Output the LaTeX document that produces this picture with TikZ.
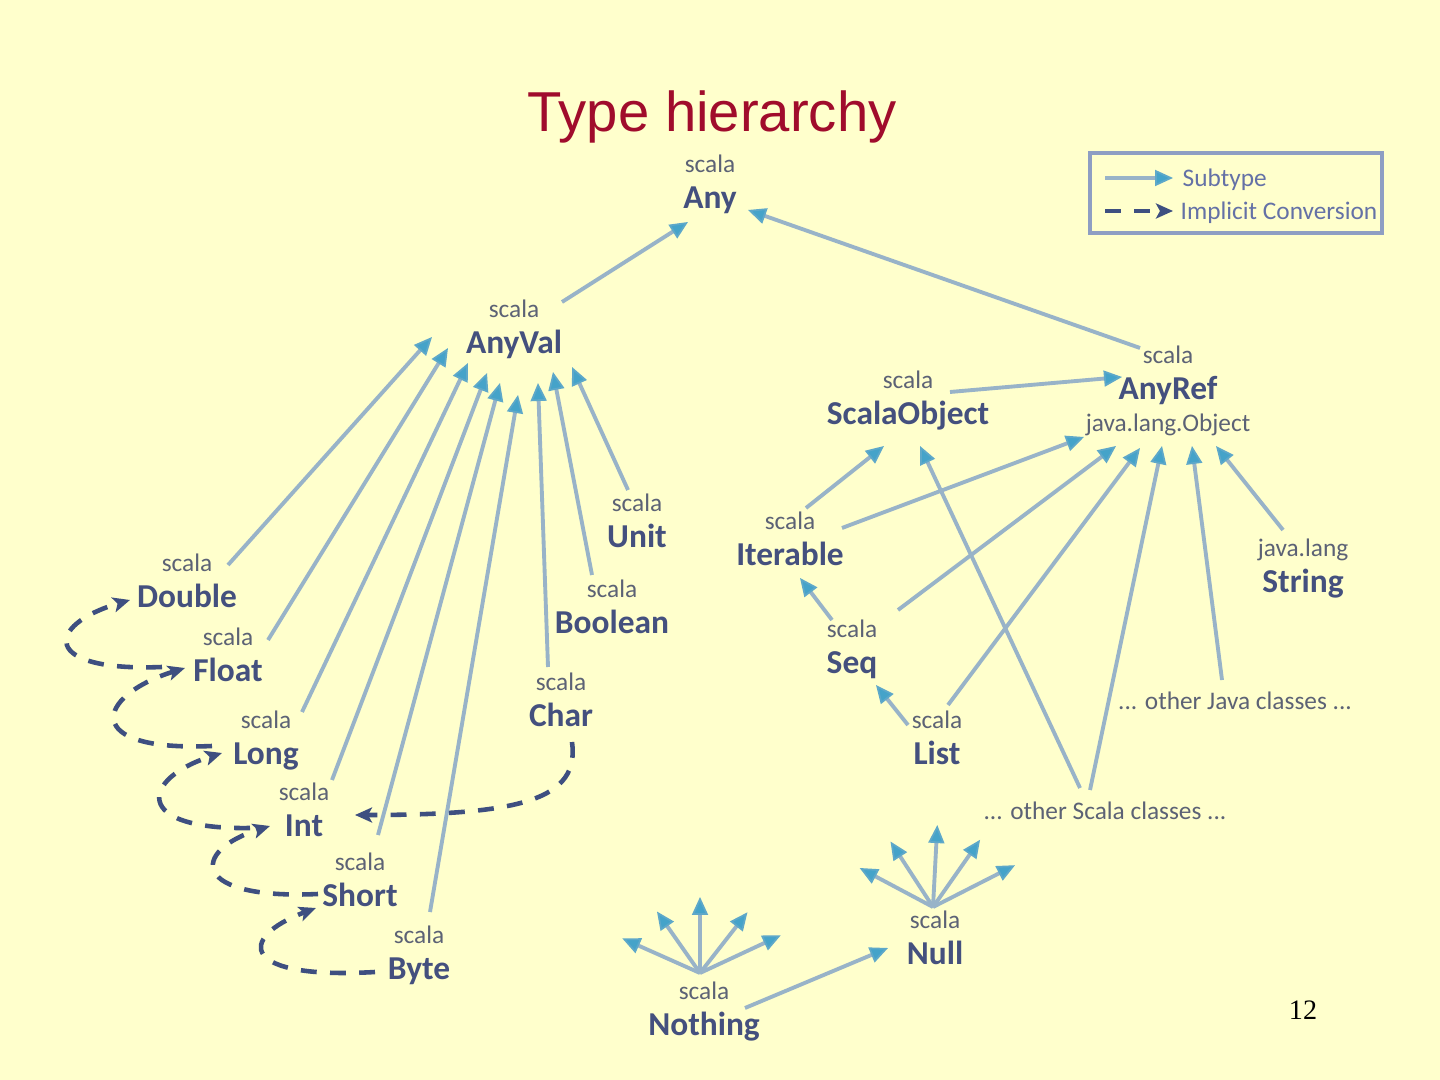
\documentclass[tikz,border=0pt]{standalone}
\usepackage{fontspec}
\setmainfont{Carlito}
\newfontfamily\titlefont{Liberation Sans}
\newfontfamily\slidenumfont{Liberation Serif}
\usetikzlibrary{arrows.meta, calc}
\definecolor{slidebg}{HTML}{FFFFCC}
\definecolor{titlered}{HTML}{A00C2C}
\definecolor{typeblue}{HTML}{44507E}
\definecolor{pkggray}{HTML}{5C6275}
\definecolor{subline}{HTML}{98B3C8}
\definecolor{subtip}{HTML}{45A3C9}
\definecolor{convblue}{HTML}{3E4F80}
\definecolor{legendbd}{HTML}{8E9EC3}
\definecolor{legtext}{HTML}{6471A6}

\begin{document}
\begin{tikzpicture}[
  x=0.01cm, y=-0.01cm,
  label distance=1.8pt,
  tname/.style={font=\fontsize{9.5}{11}\selectfont\bfseries, text=typeblue,
    text height=6.2pt, text depth=0pt, inner sep=1pt},
  pkg/.style={font=\fontsize{7.2}{8.5}\selectfont, text=pkggray,
    text height=4.9pt, text depth=0pt, inner sep=1pt},
  scalapkg/.style={label={[pkg]above:scala}},
  legtxt/.style={font=\fontsize{7.2}{8.5}\selectfont, text=legtext,
    text height=5pt, text depth=0pt, inner sep=0pt, anchor=west},
  sub/.style={draw=subline, line width=1.1pt,
    -{Triangle[length=1.8mm, width=1.6mm, fill=subtip, color=subtip!70!subline, line width=0.5pt]}},
  conv/.style={draw=convblue, line width=1.3pt, dash pattern=on 4.5pt off 3.8pt,
    -{Stealth[length=1.7mm, width=1.5mm, inset=0.4mm]}},
]

% Background
\fill[slidebg] (0,0) rectangle (1440,1080);
\useasboundingbox (0,0) rectangle (1440,1080);

% Title and slide number
\node[font=\titlefont\fontsize{16}{19}\selectfont, text=titlered, anchor=base]
  (title) at (712,132) {Type hierarchy};
\node[font=\slidenumfont\fontsize{8}{10}\selectfont, anchor=base]
  (slidenum) at (1303,1019) {12};

% Legend
\draw[legendbd, line width=1.4pt] (1090,153) rectangle (1382,233);
\node[legtxt] (legSub) at (1182,178) {Subtype};
\node[legtxt] (legConv) at (1180,211) {Implicit Conversion};
\draw[sub] ($(legSub.west)+(-77,0)$) -- ($(legSub.west)+(-9,0)$);
\draw[conv] ($(legConv.west)+(-75,0)$) -- ($(legConv.west)+(-7,0)$);

% =============================================
% Types
% =============================================
\node[tname, scalapkg] (Any) at (710,198) {Any};
\node[tname, scalapkg] (AnyVal) at (514,343) {AnyVal};
\node[tname, scalapkg, label={[pkg]below:java.lang.Object}] (AnyRef) at (1168,389) {AnyRef};
\node[tname, scalapkg] (ScalaObject) at (908,414) {ScalaObject};

% value types
\node[tname, scalapkg] (Unit) at (637,537) {Unit};
\node[tname, scalapkg] (Boolean) at (612,623) {Boolean};
\node[tname, scalapkg] (Char) at (561,716) {Char};
\node[tname, scalapkg] (Double) at (187,597) {Double};
\node[tname, scalapkg] (Float) at (228,671) {Float};
\node[tname, scalapkg] (Long) at (266,754) {Long};
\node[tname, scalapkg] (Int) at (304,826) {Int};
\node[tname, scalapkg] (Short) at (360,896) {Short};
\node[tname, scalapkg] (Byte) at (419,969) {Byte};

% reference types
\node[tname, scalapkg] (Iterable) at (790,555) {Iterable};
\node[tname, scalapkg] (Seq) at (852,663) {Seq};
\node[tname, scalapkg] (List) at (937,754) {List};
\node[tname, label={[pkg]above:java.lang}] (String) at (1303,582) {String};
\node[pkg] (OJava) at (1235,701) {... other Java classes ...};
\node[pkg] (OScala) at (1105,811) {... other Scala classes ...};

% bottom types
\node[tname, scalapkg] (Null) at (935,954) {Null};
\node[tname, scalapkg] (Nothing) at (704,1025) {Nothing};

% =============================================
% Subtype arrows
% =============================================
\draw[sub] ($(AnyVal)+(48,-41)$) -- ($(Any)+(-22,24)$);
\draw[sub] ($(AnyRef)+(-28,-41)$) -- ($(Any)+(38,12)$);
\draw[sub] ($(ScalaObject)+(42,-22)$) -- ($(AnyRef)+(-46,-12)$);

% into AnyVal
\draw[sub] ($(Double)+(41,-32)$) -- ($(AnyVal)+(-82,-6)$);
\draw[sub] ($(Float)+(40,-31)$) -- ($(AnyVal)+(-66,5)$);
\draw[sub] ($(Long)+(36,-42)$) -- ($(AnyVal)+(-46,20)$);
\draw[sub] ($(Int)+(28,-46)$) -- ($(AnyVal)+(-27,30)$);
\draw[sub] ($(Short)+(18,-61)$) -- ($(AnyVal)+(-14,40)$);
\draw[sub] ($(Byte)+(11,-57)$) -- ($(AnyVal)+(4,52)$);
\draw[sub] ($(Char)+(-13,-49)$) -- ($(AnyVal)+(24,40)$);
\draw[sub] ($(Boolean)+(-20,-48)$) -- ($(AnyVal)+(39,29)$);
\draw[sub] ($(Unit)+(-9,-47)$) -- ($(AnyVal)+(58,24)$);

% into ScalaObject / AnyRef
\draw[sub] ($(Iterable)+(16,-47)$) -- ($(ScalaObject)+(-24,32)$);
\draw[sub] ($(Iterable)+(52,-27)$) -- ($(AnyRef)+(-84,48)$);
\draw[sub] ($(Seq)+(-20,-43)$) -- ($(Iterable)+(10,23)$);
\draw[sub] ($(Seq)+(46,-53)$) -- ($(AnyRef)+(-52,57)$);
\draw[sub] ($(List)+(-29,-29)$) -- ($(Seq)+(24,22)$);
\draw[sub] ($(List)+(11,-49)$) -- ($(AnyRef)+(-28,59)$);
\draw[sub] ($(OScala)+(-25,-23)$) -- ($(ScalaObject)+(12,32)$);
\draw[sub] ($(OScala)+(-15,-21)$) -- ($(AnyRef)+(-6,57)$);
\draw[sub] ($(OJava)+(-13,-21)$) -- ($(AnyRef)+(24,57)$);
\draw[sub] ($(String)+(-20,-52)$) -- ($(AnyRef)+(48,57)$);

% Null and Nothing fans
\draw[sub] ($(Nothing)+(41,-17)$) -- ($(Null)+(-47,-6)$);
\coordinate (nullfan) at ($(Null)+(-2,-47)$);
\draw[sub] (nullfan) -- ++(152:0.83cm);
\draw[sub] (nullfan) -- ++(123:0.78cm);
\draw[sub] (nullfan) -- ++(87:0.82cm);
\draw[sub] (nullfan) -- ++(55:0.82cm);
\draw[sub] (nullfan) -- ++(27:0.92cm);
\coordinate (nothingfan) at ($(Nothing)+(-4,-52)$);
\draw[sub] (nothingfan) -- ++(156:0.85cm);
\draw[sub] (nothingfan) -- ++(125:0.75cm);
\draw[sub] (nothingfan) -- ++(90:0.76cm);
\draw[sub] (nothingfan) -- ++(52:0.77cm);
\draw[sub] (nothingfan) -- ++(25:0.89cm);

% =============================================
% Implicit conversions
% =============================================
\draw[conv] ($(Byte)+(-44,3)$) .. controls +(-135,8) and +(-80,30) .. ($(Short)+(-44,12)$);
\draw[conv] ($(Short)+(-42,-2)$) .. controls +(-128,6) and +(-80,25) .. ($(Int)+(-34,0)$);
\draw[conv] ($(Int)+(-54,2)$) .. controls +(-120,2) and +(-80,25) .. ($(Long)+(-44,-1)$);
\draw[conv] ($(Long)+(-54,-8)$) .. controls +(-132,6) and +(-90,28) .. ($(Float)+(-43,-3)$);
\draw[conv] ($(Float)+(-66,-4)$) .. controls +(-122,5) and +(-85,25) .. ($(Double)+(-57,3)$);
\draw[conv] ($(Char)+(11,26)$) .. controls +(8,58) and +(165,0) .. ($(Int)+(51,-11)$);

\end{tikzpicture}
\end{document}
